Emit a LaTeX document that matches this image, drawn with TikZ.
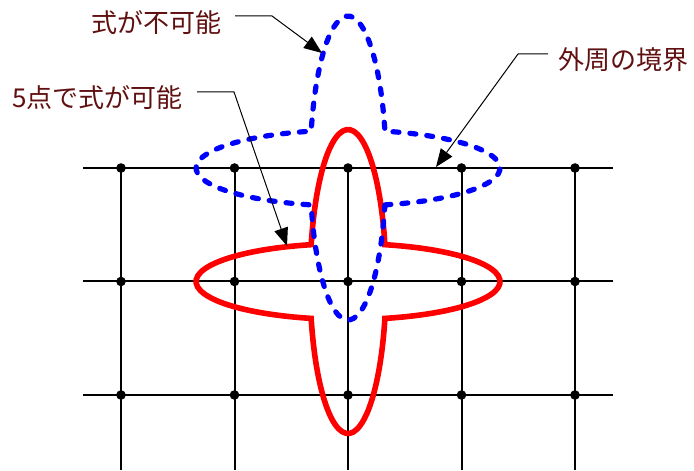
\documentclass[tikz,border=0pt]{standalone}
\usepackage{fontspec}
\usepackage{xcolor}
\usepackage{tikz}
\usetikzlibrary{arrows.meta,positioning,calc}
\newfontfamily\jpfont{Noto Sans CJK JP}
\definecolor{labelC}{RGB}{96,16,16}
\definecolor{okred}{RGB}{255,0,0}
\definecolor{dashC}{RGB}{0,0,255}
\tikzset{
  gridline/.style={line width=1pt, draw=black},
  knot/.style={circle, fill=black, inner sep=0pt, minimum size=4.8pt},
  contour/.style={line width=2.8pt, draw=#1},
  leader/.style={-{Triangle[length=9pt, width=7pt]}, line width=0.5pt, draw=black},
  lbl/.style={font=\jpfont\fontsize{13pt}{15pt}\selectfont, text=labelC, inner sep=0pt},
}

\begin{document}
\begin{tikzpicture}[x=0.5pt, y=0.5pt]
    \useasboundingbox (0,0) rectangle (694,470);
    % grid
    \foreach \r/\y in {1/302, 2/188.5, 3/75} {
      \draw[gridline] (83,\y) -- (613,\y);
    }
    \foreach \c/\x in {1/121, 2/234.5, 3/348, 4/461.5, 5/575} {
      \draw[gridline] (\x,302) -- (\x,0);
      \foreach \r/\y in {1/302, 2/188.5, 3/75}
        \node[knot] (k-\r-\c) at (\x,\y) {};
    }
    % two boundaries
    \coordinate (redC) at (348,188.5);
    \coordinate (blueC) at (348,302);
    \draw[contour=okred] (redC) ++(36.9,-36.9)
      arc[start angle=-75.95, end angle=75.95, x radius=152, y radius=38]
      arc[start angle=14.05, end angle=165.95, x radius=38, y radius=152]
      arc[start angle=104.05, end angle=255.95, x radius=152, y radius=38]
      arc[start angle=194.05, end angle=345.95, x radius=38, y radius=152] -- cycle;
    \draw[contour=dashC, line width=2.6pt, dash pattern=on 3pt off 5.5pt, line cap=round] (blueC) ++(36.9,-36.9)
      arc[start angle=-75.95, end angle=75.95, x radius=152, y radius=38]
      arc[start angle=14.05, end angle=165.95, x radius=38, y radius=152]
      arc[start angle=104.05, end angle=255.95, x radius=152, y radius=38]
      arc[start angle=194.05, end angle=345.95, x radius=38, y radius=152] -- cycle;
    % labels
    \node[lbl, anchor=east] (nofit) at (222,447.5) {式が不可能};
    \node[lbl, anchor=east] (fivept) at (183,372.5) {5点で式が可能};
    \node[lbl, anchor=west] (rim) at (558,410) {外周の境界};
    \coordinate (nofitbend) at (272,454);   \coordinate (nofittip) at (322,417);
    \coordinate (fiveptbend) at (234,378);  \coordinate (fivepttip) at (287,224);
    \coordinate (rimbend) at (518,416);     \coordinate (rimtip) at (436,303);
    \draw[leader] ([xshift=6.5pt,yshift=3.25pt]nofit.east) -- (nofitbend) -- (nofittip);
    \draw[leader] ([xshift=7pt,yshift=2.75pt]fivept.east) -- (fiveptbend) -- (fivepttip);
    \draw[leader] ([xshift=-5pt,yshift=3pt]rim.west) -- (rimbend) -- (rimtip);
  \end{tikzpicture}
\end{document}
